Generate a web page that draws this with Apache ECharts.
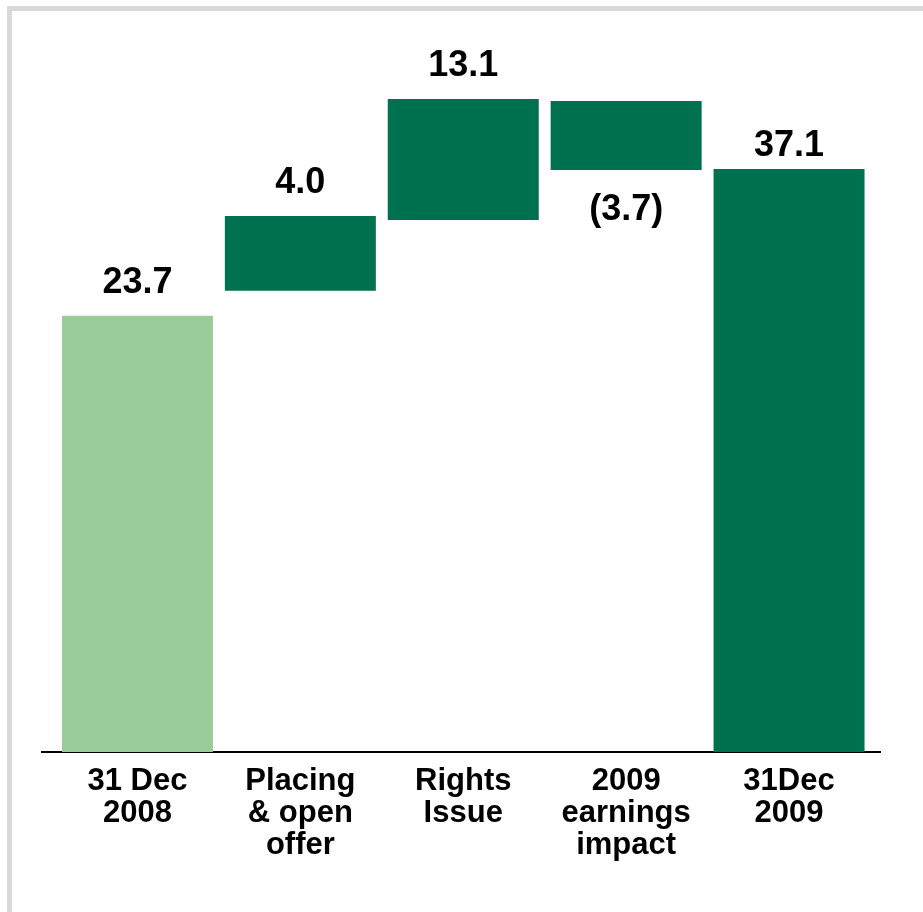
<!DOCTYPE html>
<html>
<head>
<meta charset="utf-8">
<script src="https://cdn.jsdelivr.net/npm/echarts@6/dist/echarts.min.js"></script>
<style>
html,body{margin:0;padding:0;background:#fff;}
#chart{width:923px;height:912px;}
</style>
</head>
<body>
<div id="chart"></div>
<script>
// Categories (x axis)
const categories = ['31 Dec\n2008', 'Placing\n& open\noffer', 'Rights\nIssue', '2009\nearnings\nimpact', '31Dec\n2009'];
// Reported values shown as labels
const labelValues = [23.7, 4.0, 13.1, -3.7, 37.1];
// Bar extents as drawn in the picture (bottom and top, same units)
const barBottoms = [0, 25.10, 28.95, 31.67, 0];
const barTops = [23.74, 29.17, 35.54, 35.43, 31.73];
// Bar colours per category
const barColors = ['#99CC99', '#00714F', '#00714F', '#00714F', '#00714F'];
const labelDistances = [15, 15, 15, 22, 5];

const heights = barTops.map((t, i) => +(t - barBottoms[i]).toFixed(2));

const fmt = v => v < 0 ? '(' + Math.abs(v).toFixed(1) + ')' : v.toFixed(1);

const chart = echarts.init(document.getElementById('chart'), null, {renderer: 'canvas'});
chart.setOption({
  backgroundColor: '#ffffff',
  animation: false,
  textStyle: {fontFamily: 'Liberation Sans, Arial, sans-serif'},
  grid: {left: 56, right: 52.5, top: 17, bottom: 160, containLabel: false},
  xAxis: {
    type: 'category',
    data: categories,
    axisLine: {show: false},
    axisTick: {show: false},
    axisLabel: {
      interval: 0,
      margin: 13,
      color: '#000',
      fontSize: 31,
      fontWeight: 'bold',
      lineHeight: 32,
      fontFamily: 'Liberation Sans, Arial, sans-serif',
      verticalAlign: 'top'
    }
  },
  yAxis: {
    type: 'value', min: 0, max: 40, show: false,
    splitLine: {show: false}
  },
  series: [
    {
      type: 'bar', stack: 'wf', barWidth: 151,
      itemStyle: {color: 'transparent'},
      silent: true,
      data: barBottoms
    },
    {
      type: 'bar', stack: 'wf', barWidth: 151,
      data: heights.map((h, i) => ({
        value: h,
        itemStyle: {color: barColors[i]},
        label: {
          show: true,
          position: labelValues[i] < 0 ? 'bottom' : 'top',
          distance: labelDistances[i],
          formatter: () => fmt(labelValues[i]),
          color: '#000',
          fontSize: 36,
          fontWeight: 'bold',
          fontFamily: 'Liberation Sans, Arial, sans-serif'
        }
      }))
    }
  ],
  graphic: [
    {
      type: 'rect', silent: true,
      shape: {x: 9.5, y: 8.5, width: 1200, height: 1200},
      style: {fill: 'none', stroke: '#D9D9D9', lineWidth: 5}
    },
    {
      type: 'line', silent: true,
      shape: {x1: 41, y1: 752, x2: 881, y2: 752},
      style: {stroke: '#000', lineWidth: 2}
    }
  ]
});
</script>
</body>
</html>
